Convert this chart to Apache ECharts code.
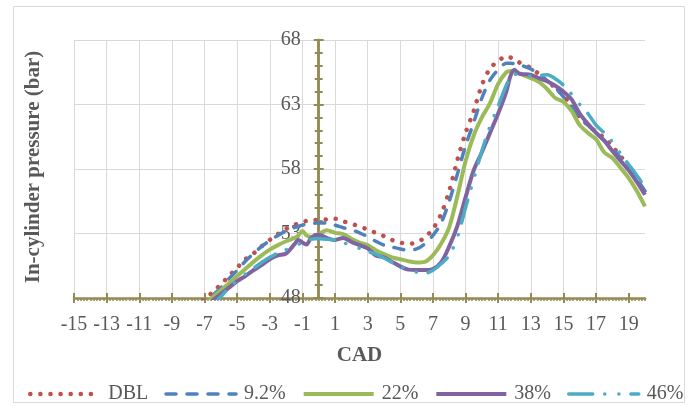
<!DOCTYPE html>
<html>
<head>
<meta charset="utf-8">
<style>
  html, body { margin: 0; padding: 0; background: #ffffff; }
  #chart { width: 692px; height: 406px; }
</style>
<script src="https://cdn.jsdelivr.net/npm/echarts@6/dist/echarts.min.js"></script>
</head>
<body>
<div id="chart"></div>
<script>
// Crank angle (deg) shared by every pressure trace
const cad = [-15, -12, -9, -8, -7.5, -7, -6.5, -6, -5.5, -5, -4.5, -4, -3.5, -3, -2.5, -2, -1.5, -1.25, -1, -0.75, -0.5, -0.25, 0,
  0.5, 1, 1.5, 2, 2.5, 3, 3.5, 4, 4.5, 5, 5.5, 6, 6.5, 7, 7.5, 8, 8.5, 9, 9.5, 10, 10.5, 11, 11.5, 11.75, 12, 12.25,
  12.5, 13, 13.5, 14, 14.5, 15, 15.5, 16, 16.5, 17, 17.5, 18, 18.5, 19, 19.5, 20];

// In-cylinder pressure (bar) per fuel blend
const dbl = [39.0, 42.5, 45.6, 46.8, 47.35, 47.9, 48.45, 49.05, 49.7, 50.35, 51.0, 51.45, 52.0, 52.5, 52.95, 53.35, 53.65, 53.8, 53.9, 53.97, 54.02, 54.05, 54.05,
  54.1, 54.15, 53.95, 53.75, 53.55, 53.3, 53.05, 52.8, 52.5, 52.3, 52.2, 52.3, 52.7, 53.35, 54.5, 56.3, 58.7, 60.8, 62.5, 64.5, 65.8, 66.35, 66.75, 66.65, 66.5, 66.3,
  66.1, 65.85, 65.35, 64.8, 64.3, 63.7, 62.9, 62.05, 61.4, 60.9, 60.4, 59.75, 59.0, 58.2, 57.3, 56.5];
const b92 = [38.5, 42.1, 45.4, 46.6, 47.2, 47.7, 48.2, 48.8, 49.5, 50.15, 50.85, 51.45, 52.0, 52.45, 52.85, 53.2, 53.45, 53.55, 53.65, 53.72, 53.78, 53.8, 53.82,
  53.8, 53.65, 53.45, 53.3, 53.05, 52.75, 52.4, 52.1, 51.95, 51.8, 51.7, 51.8, 52.2, 52.85, 53.8, 55.5, 57.6, 59.8, 61.6, 63.5, 64.9, 65.7, 66.2, 66.2, 66.15, 66.1,
  66.0, 65.75, 65.35, 64.85, 64.3, 63.6, 62.8, 62.0, 61.4, 60.8, 60.2, 59.6, 58.85, 58.1, 57.2, 56.3];
const b22 = [38.0, 41.6, 45.2, 46.4, 46.95, 47.5, 48.05, 48.6, 49.15, 49.7, 50.25, 50.8, 51.3, 51.75, 52.1, 52.4, 52.65, 52.85, 53.2, 52.85, 52.75, 52.8, 52.95,
  53.25, 53.05, 52.95, 52.6, 52.3, 52.1, 51.7, 51.4, 51.15, 51.0, 50.85, 50.75, 50.8, 51.3, 52.2, 53.5, 55.9, 58.6, 60.6, 62.0, 63.1, 64.6, 65.5, 65.6, 65.55, 65.45,
  65.3, 65.05, 64.75, 64.2, 63.5, 63.2, 62.5, 61.4, 60.8, 60.3, 59.3, 58.85, 58.1, 57.3, 56.3, 55.1];
const b38 = [37.5, 41.2, 44.9, 46.1, 46.7, 47.25, 47.8, 48.3, 48.8, 49.3, 49.7, 50.15, 50.55, 51.0, 51.3, 51.45, 52.15, 52.5, 52.3, 52.15, 52.6, 52.85, 52.9,
  52.65, 52.5, 52.65, 52.35, 52.1, 51.85, 51.3, 51.15, 50.8, 50.45, 50.2, 50.17, 50.17, 50.25, 50.75, 52.0, 53.6, 55.8, 57.9, 59.3, 60.8, 62.3, 64.0, 65.2, 65.7, 65.4,
  65.35, 65.3, 65.05, 64.8, 64.45, 64.0, 63.4, 62.3, 61.5, 60.8, 60.2, 59.4, 58.65, 57.9, 57.0, 56.0];
const b46 = [37.2, 40.9, 44.6, 45.9, 46.5, 47.0, 47.5, 48.1, 48.8, 49.35, 49.85, 50.3, 50.75, 51.15, 51.5, 51.75, 52.0, 52.15, 52.3, 52.45, 52.55, 52.6, 52.6,
  52.55, 52.5, 52.3, 52.05, 51.85, 51.6, 51.4, 51.1, 50.75, 50.45, 50.2, 50.0, 49.9, 50.15, 50.65, 51.3, 52.7, 55.0, 57.2, 59.4, 61.3, 62.9, 64.5, 65.1, 65.35, 65.3,
  65.25, 65.2, 65.25, 65.3, 65.0, 64.5, 63.8, 63.0, 62.3, 61.4, 60.8, 60.1, 59.2, 58.35, 57.5, 56.6];

const seriesNames = ['DBL', '9.2%', '22%', '38%', '46%'];
const xTickValues = [-15, -13, -11, -9, -7, -5, -3, -1, 1, 3, 5, 7, 9, 11, 13, 15, 17, 19];

const olive = '#948A54';
const gridGray = '#D9D9D9';
const textGray = '#595959';
const serif = '"Liberation Serif", "Times New Roman", serif';

const lineStyles = [
  { color: '#C0504D', width: 4.5, type: [0.1, 10], cap: 'round' },
  { color: '#4F81BD', width: 3.5, type: [10, 11], cap: 'round' },
  { color: '#9BBB59', width: 4 },
  { color: '#8064A2', width: 4 },
  { color: '#4BACC6', width: 3.5, type: [24, 12, 0.1, 14, 0.1, 12], cap: 'round' }
];
const seriesValues = [dbl, b92, b22, b38, b46];

function pairs(ys) {
  return cad.map((x, i) => [x, ys[i]]);
}

const baseX = { type: 'value', min: -15, max: 20, position: 'bottom', gridIndex: 0 };
const baseY = { type: 'value', min: 48, max: 68, interval: 5, gridIndex: 0, position: 'left' };

const chart = echarts.init(document.getElementById('chart'), null, { renderer: 'canvas' });

function buildOption(yOffset) {
  return {
    animation: false,
    backgroundColor: '#ffffff',
    graphic: [
      {
        type: 'rect',
        shape: { x: 13.5, y: 6.5, width: 671, height: 396 },
        style: { fill: 'none', stroke: gridGray, lineWidth: 1 },
        silent: true
      },
      {
        type: 'text',
        x: 34,
        y: 167,
        rotation: Math.PI / 2,
        style: {
          text: 'In-cylinder pressure (bar)',
          font: 'bold 21px ' + serif,
          fill: textGray,
          align: 'center',
          verticalAlign: 'middle'
        },
        silent: true
      }
    ],
    grid: { left: 74, right: 47, top: 40, bottom: 108, containLabel: false, outerBoundsMode: 'none' },
    xAxis: [
      Object.assign({}, baseX, {
        interval: 2,
        name: 'CAD',
        nameLocation: 'middle',
        nameGap: 47,
        nameTextStyle: { fontFamily: serif, fontSize: 21, fontWeight: 'bold', color: textGray },
        axisLine: { show: true, onZero: false, lineStyle: { color: olive, width: 2.5 } },
        axisTick: { show: true, inside: false, length: 5, customValues: xTickValues, lineStyle: { color: olive, width: 2 } },
        axisLabel: { show: true, margin: 17, customValues: xTickValues, hideOverlap: false, fontFamily: serif, fontSize: 20, color: textGray },
        splitLine: { show: true, showMaxLine: false, lineStyle: { color: gridGray, width: 1 } },
        minorTick: { show: false }
      }),
      Object.assign({}, baseX, {
        interval: 2,
        axisLine: { show: false, onZero: false },
        axisTick: { show: true, inside: true, length: 5, customValues: xTickValues, lineStyle: { color: olive, width: 2 } },
        axisLabel: { show: false },
        splitLine: { show: false }
      }),
      Object.assign({}, baseX, {
        interval: 1,
        axisLine: { show: false, onZero: false },
        axisTick: { show: true, inside: false, length: 3, lineStyle: { color: olive, width: 1.5 } },
        minorTick: { show: true, splitNumber: 5, length: 3, lineStyle: { color: olive, width: 1.5 } },
        axisLabel: { show: false },
        splitLine: { show: false }
      })
    ],
    yAxis: [
      Object.assign({}, baseY, {
        offset: yOffset,
        axisLine: { show: true, onZero: false, lineStyle: { color: olive, width: 2.5 } },
        axisTick: { show: true, inside: false, length: 5, lineStyle: { color: olive, width: 2 } },
        minorTick: { show: true, splitNumber: 5, length: 4, lineStyle: { color: olive, width: 2 } },
        axisLabel: { show: true, margin: 18, fontFamily: serif, fontSize: 20, color: textGray },
        splitLine: { show: true, lineStyle: { color: gridGray, width: 1 } }
      }),
      Object.assign({}, baseY, {
        offset: yOffset,
        axisLine: { show: true, onZero: false, lineStyle: { color: olive, width: 2.5 } },
        axisTick: { show: true, inside: true, length: 5, lineStyle: { color: olive, width: 2 } },
        minorTick: { show: true, splitNumber: 5, length: 4, lineStyle: { color: olive, width: 2 } },
        axisLabel: { show: false },
        splitLine: { show: false }
      })
    ],
    legend: {
      left: 28,
      right: 0,
      bottom: 2,
      padding: 0,
      itemWidth: 70,
      itemHeight: 14,
      itemGap: 16,
      itemStyle: { color: 'rgba(0,0,0,0)', borderColor: 'rgba(0,0,0,0)', borderWidth: 0 },
      textStyle: { fontFamily: serif, fontSize: 20, color: textGray, padding: [0, 0, 0, 3] },
      data: seriesNames.map((name, i) => ({ name: name, lineStyle: { width: lineStyles[i].width } }))
    },
    series: seriesNames.map((name, i) => ({
      name: name,
      type: 'line',
      data: pairs(seriesValues[i]),
      smooth: 0.3,
      symbol: 'none',
      clip: true,
      lineStyle: lineStyles[i],
      itemStyle: { color: lineStyles[i].color }
    }))
  };
}

// First pass lays out the grid; the value axis then sits where CAD = 0 falls.
chart.setOption(buildOption(0));
const zeroPx = chart.convertToPixel({ xAxisIndex: 0 }, 0);
const leftPx = chart.convertToPixel({ xAxisIndex: 0 }, -15);
chart.setOption(buildOption(-(zeroPx - leftPx)));
</script>
</body>
</html>
